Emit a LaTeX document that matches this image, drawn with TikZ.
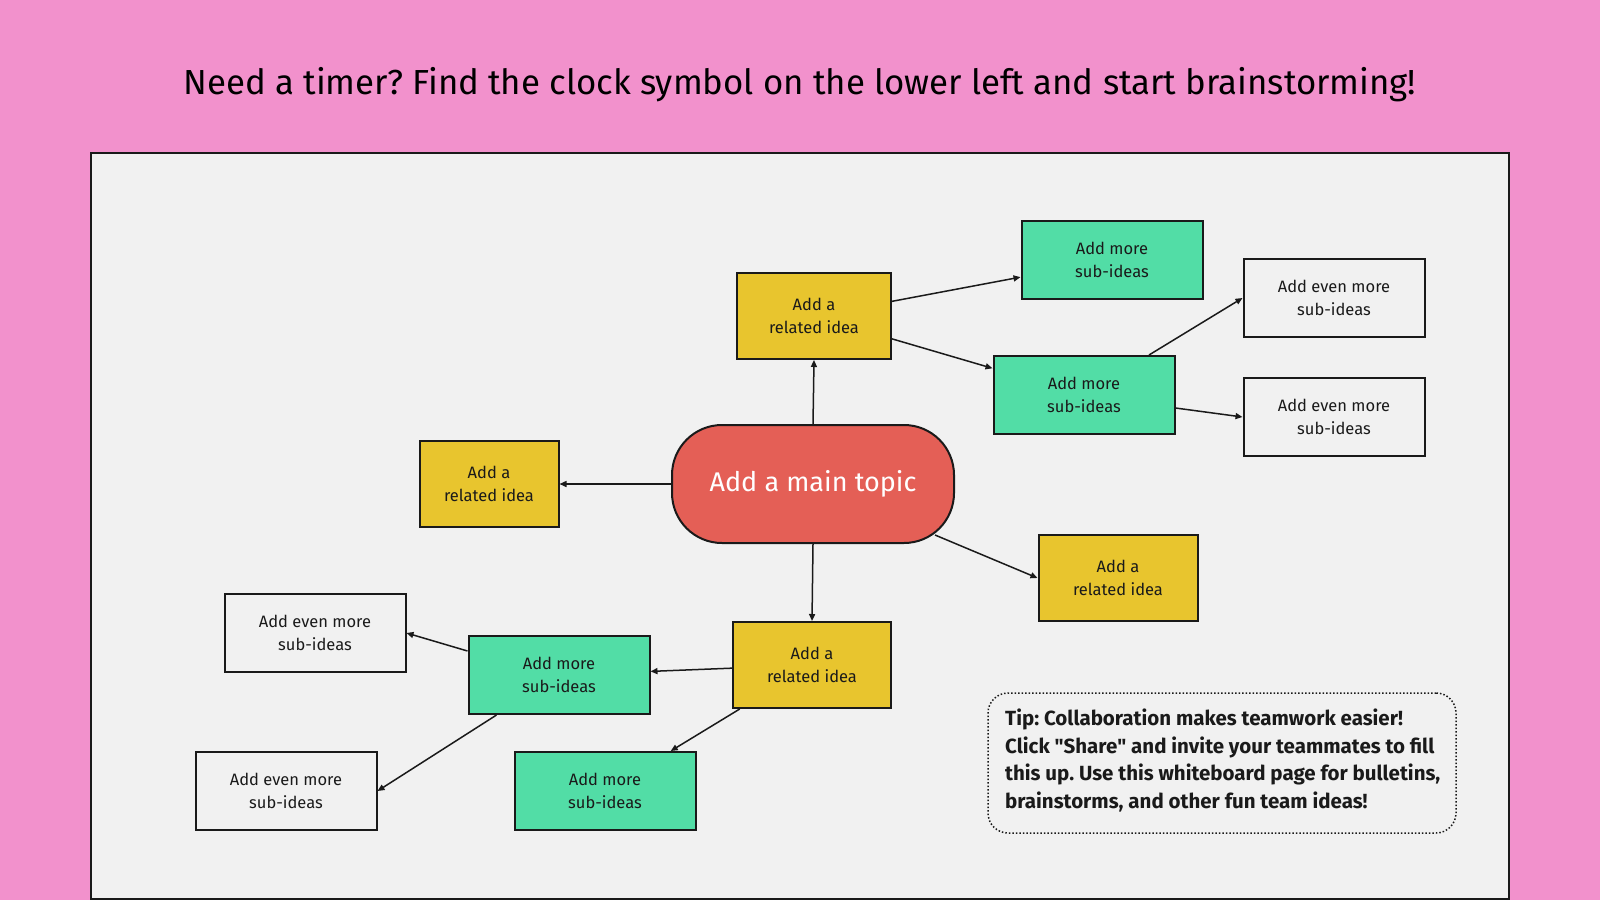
\documentclass[tikz,border=0pt]{standalone}
\usepackage{fontspec}
\setmainfont{Fira Sans}
\usetikzlibrary{arrows.meta,calc}
\frenchspacing
\newcommand\straightquote{\XeTeXglyph\XeTeXcharglyph"22\relax}
\definecolor{bgpink}{HTML}{F291CC}
\definecolor{board}{HTML}{F1F1F1}
\definecolor{ideayellow}{HTML}{E8C52E}
\definecolor{subgreen}{HTML}{52DDA6}
\definecolor{topicred}{HTML}{E45F56}
\definecolor{ink}{HTML}{1A1A1A}
\tikzset{
  box/.style={draw=ink, line width=2pt, inner sep=0pt, align=center, text=ink,
    font=\fontsize{16.5}{23}\selectfont},
  idea/.style={box, fill=ideayellow, minimum height=86pt},
  sub/.style={box, fill=subgreen, minimum width=181pt, minimum height=78pt},
  evensub/.style={box, fill=board, minimum width=181pt, minimum height=78pt},
  topic/.style={draw=ink, line width=2pt, fill=topicred, rounded corners=50pt,
    minimum width=282pt, minimum height=118pt, text=white, inner sep=0pt,
    font=\fontsize{27}{30}\selectfont},
  arr/.style={draw=ink, line width=1.5pt, -{Triangle[length=7pt,width=6pt]}},
}
\begin{document}
\begin{tikzpicture}[x=1pt,y=-1pt]
\useasboundingbox (0,0) rectangle (1600,900);
\fill[bgpink] (0,0) rectangle (1600,900);
\draw[ink, line width=2pt, fill=board] (91,153) rectangle (1509,899);

\node[text=black, font=\fontsize{34.8}{38}\selectfont] (title) at (800,85)
  {Need a timer? Find the clock symbol on the lower left and start brainstorming!};

\node[topic] (main) at (813,484) {Add a main topic};

\node[idea, minimum width=154pt] (y1) at (814,316) {Add a\\related idea};
\node[idea, minimum width=139pt] (yl) at (489,484) {Add a\\related idea};
\node[idea, minimum width=159pt] (yr) at (1118,578) {Add a\\related idea};
\node[idea, minimum width=158pt] (yb) at (812,665) {Add a\\related idea};

\node[sub] (g1) at (1112,260) {Add more\\sub-ideas};
\node[sub] (g2) at (1084,395) {Add more\\sub-ideas};
\node[sub] (g3) at (559,675) {Add more\\sub-ideas};
\node[sub] (g4) at (605,791) {Add more\\sub-ideas};

\node[evensub] (w1) at (1334,298) {Add even more\\sub-ideas};
\node[evensub] (w2) at (1334,417) {Add even more\\sub-ideas};
\node[evensub] (w3) at (315,633) {Add even more\\sub-ideas};
\node[evensub] (w4) at (286,791) {Add even more\\sub-ideas};

\node[draw=ink, line width=1.5pt, dotted, rounded corners=20pt, fill=board,
  minimum width=468pt, minimum height=140pt] (tipbox) at (1222,763) {};
\node[anchor=west, align=left, text=ink, inner sep=0pt,
  font=\fontsize{20.5}{27.7}\selectfont\bfseries] (tip) at (1005,760.5)
  {Tip: Collaboration makes teamwork easier!\\
   Click \straightquote Share\straightquote{} and invite your teammates to fill\\
   this up. Use this whiteboard page for bulletins,\\
   brainstorms, and other fun team ideas!};

\draw[arr] (main.north) -- (y1.south);
\draw[arr] (main.west) -- (yl.east);
\draw[arr] ($(main.south east)+(-20,-9)$) -- (yr.west);
\draw[arr] (main.south) -- (yb.north);
\draw[arr] (y1) -- (g1);
\draw[arr] (y1) -- (g2);
\draw[arr] ($(g2.north)+(65,0)$) -- (w1.west);
\draw[arr] ($(g2.east)+(0,13)$) -- (w2.west);
\draw[arr] (yb) -- (g3);
\draw[arr] (yb) -- (g4);
\draw[arr] ($(g3.west)+(0,-24)$) -- (w3.east);
\draw[arr] ($(g3.south west)+(29,0)$) -- (w4.east);
\end{tikzpicture}
\end{document}
